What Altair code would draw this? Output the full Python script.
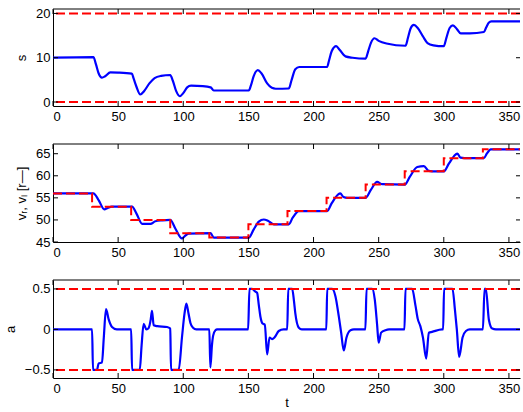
import altair as alt
import pandas as pd

# ---------------- data ----------------
t_s = [0, 31, 33, 35, 37.6, 40, 44, 50, 60.5, 62, 64, 67, 70, 74, 78, 83, 90, 92, 94.5, 97.3,
       100, 103, 106, 115, 121, 123.4, 150.3, 152, 154, 157.2, 160, 164.4, 168, 171, 181, 183,
       186, 189, 210.4, 212, 214, 217.4, 220, 224.5, 230, 240, 242, 244, 246.8, 250, 256, 270.6,
       272.5, 274.5, 277, 280, 284, 287.5, 292, 300, 302, 304.5, 307, 310, 313, 320, 330.8,
       332.5, 334.5, 336.5, 360]
s_vals = [10.0, 10.15, 8.5, 6.5, 5.5, 5.8, 6.7, 6.65, 6.4, 5.2, 3.5, 1.7, 2.5, 4.2, 5.4, 5.9, 6.1,
          4.8, 2.5, 1.3, 2.0, 3.3, 3.7, 3.6, 3.3, 2.6, 2.6, 3.8, 5.8, 7.2, 6.5, 4.2, 3.2, 3.0, 3.05,
          4.8, 7.4, 7.9, 7.9, 9.5, 11.5, 12.6, 11.8, 10.3, 10.0, 9.8, 11.5, 13.3, 14.4, 13.8, 13.2,
          12.7, 14.5, 16.6, 17.4, 16.7, 14.8, 13.3, 12.8, 12.6, 14.5, 16.7, 17.3, 16.5, 15.5, 15.5,
          15.8, 16.8, 17.9, 18.2, 18.2]
s_limits = [0, 20]

t_v = [0, 31, 35, 39.4, 42, 45, 60.7, 64, 68.5, 74.8, 78.6, 84, 90, 94, 99, 101, 104, 121, 123.4,
       150.3, 154, 158, 161.8, 165, 169.5, 181, 184, 188.7, 210.4, 214, 219, 220.5, 223, 226, 240,
       244, 248.8, 252.7, 270, 274, 279.6, 284.7, 288.5, 291, 300, 304, 309, 310.5, 312.8, 316,
       330.8, 333, 336, 360]
v_vals = [56, 56, 54.5, 52.4, 52.7, 53.0, 53.0, 51.5, 49.1, 49.1, 49.7, 49.9, 50.0, 48.0, 45.8,
          46.3, 46.9, 47.0, 46.0, 46.0, 47.8, 49.6, 50.1, 49.8, 49.0, 49.0, 50.5, 52.0, 52.0, 53.8,
          55.8, 56.0, 55.2, 55.0, 55.0, 56.8, 58.6, 58.1, 58.0, 59.8, 62.0, 62.2, 61.1, 61.0, 61.0,
          62.8, 64.8, 65.0, 64.1, 64.0, 64.0, 65.0, 66.0, 66.0]
t_ref = [0, 30, 60, 90, 120, 150, 180, 210, 240, 270, 300, 330, 360]
v_ref = [56, 53, 50, 47, 46, 49, 52, 55, 58, 61, 64, 66, 66]

t_a = [0, 30, 30.7, 33.8, 35, 37.6, 39, 40.7, 42.8, 45.3, 49, 60, 60.7, 66.6, 68, 69.6, 71.7, 73.5,
       75, 76, 77.3, 80, 87.6, 90, 90.6, 96.5, 99, 101, 102.4, 104, 105.5, 107.5, 110, 120, 120.8,
       122, 122.9, 124.7, 126, 149.8, 150.8, 152.8, 155.4, 156.7, 158, 159.2, 161, 162.6, 164.4,
       166.2, 168.2, 170, 173.3, 177, 179.8, 180.6, 183.6, 185, 186, 188.7, 191, 209.8, 210.5,
       214.3, 216.8, 219.4, 221.2, 223.2, 225.3, 228.4, 231, 239.8, 240.7, 245, 247, 248.8, 250,
       251.9, 255.2, 258, 269.8, 270.6, 275.7, 278.3, 280, 282, 284, 286.5, 288.5, 291, 298.7,
       299.5, 300.2, 306.7, 308.5, 310, 311.8, 314.4, 317, 320, 330, 331.3, 332.3, 334.6, 337.2,
       340, 360]
a_vals = [0, 0, -0.5, -0.5, -0.42, -0.41, -0.1, 0.25, 0.12, 0.03, 0, 0, -0.5, -0.5, -0.2, 0.07, 0.0,
          0.02, 0.12, 0.23, 0.05, 0.04, 0.03, 0.01, -0.5, -0.5, -0.1, 0.2, 0.32, 0.2, 0.08, 0.02, 0,
          0, -0.47, -0.2, -0.08, -0.01, 0, 0, 0.5, 0.5, 0.465, 0.45, 0.3, 0.16, 0.07, 0.06, -0.31,
          -0.1, -0.12, -0.1, -0.02, 0, 0, 0.5, 0.5, 0.35, 0.2, 0.02, 0, 0, 0.5, 0.5, 0.41, 0.16,
          -0.04, -0.26, -0.1, -0.01, 0, 0, 0.5, 0.5, 0.37, 0.06, -0.165, -0.04, -0.01, 0, 0, 0.5,
          0.5, 0.29, 0.13, 0.04, -0.1, -0.36, -0.04, -0.03, 0, 0, 0.5, 0.5, 0.25, 0.0, -0.34, -0.1,
          -0.02, 0, 0, 0.5, 0.5, 0.12, 0.01, 0, 0]
a_limits = [-0.5, 0.5]

x_ticks = [0, 50, 100, 150, 200, 250, 300, 350]
s_ticks = [0, 10, 20]
v_ticks = [45, 50, 55, 60, 65]
a_ticks = [-0.5, 0, 0.5]

# ---------------- style ----------------
W = 467
X_DOMAIN = [0, 358.5]
BLUE = "#0000ff"
RED = "#ff0000"
FONT = "Liberation Sans"

xscale = alt.Scale(domain=X_DOMAIN, nice=False, zero=False)


def panel(df, field, ydomain, yticks, ytitle, ref_kind, ref_data, H, xtitle=None, label_expr=None):
    yscale = alt.Scale(domain=ydomain, nice=False, zero=False)
    yaxis_kwargs = dict(values=yticks, title=ytitle, grid=False, ticks=False, tickSize=0,
                        labelPadding=3, titlePadding=7, domain=True, domainColor="black",
                        labelOverlap=False, labelBound=False)
    if label_expr:
        yaxis_kwargs["labelExpr"] = label_expr
    yaxis = alt.Axis(**yaxis_kwargs)
    xaxis = alt.Axis(values=x_ticks, title=xtitle, grid=False, ticks=False, tickSize=0,
                     labelPadding=4, titlePadding=1, format="d", domain=True,
                     domainColor="black", labelOverlap=False)
    blue = alt.Chart(df).mark_line(color=BLUE, strokeWidth=2.2, interpolate="monotone",
                                   clip=True).encode(
        x=alt.X("t:Q", scale=xscale, axis=xaxis),
        y=alt.Y(f"{field}:Q", scale=yscale, axis=yaxis),
    )
    if ref_kind == "limits":
        ref = alt.Chart(pd.DataFrame({"lim": ref_data})).mark_rule(
            color=RED, strokeWidth=2, strokeDash=[9, 4]).encode(
            y=alt.Y("lim:Q", scale=yscale, axis=yaxis))
    else:
        ref = alt.Chart(pd.DataFrame({"t": ref_data[0], "vref": ref_data[1]})).mark_line(
            color=RED, strokeWidth=2, strokeDash=[9, 4], interpolate="step-after",
            clip=True).encode(
            x=alt.X("t:Q", scale=xscale, axis=xaxis),
            y=alt.Y("vref:Q", scale=yscale, axis=yaxis),
        )
    top = alt.Chart(pd.DataFrame({"z": [0]})).mark_rule(color="black", strokeWidth=1).encode(
        y=alt.value(0))
    xt = pd.DataFrame({"xt": x_ticks})
    xt_bot = alt.Chart(xt).mark_rule(color="black", strokeWidth=1).encode(
        x=alt.X("xt:Q", scale=xscale, axis=xaxis), y=alt.value(H), y2=alt.value(H - 5))
    xt_top = alt.Chart(xt).mark_rule(color="black", strokeWidth=1).encode(
        x=alt.X("xt:Q", scale=xscale, axis=xaxis), y=alt.value(0), y2=alt.value(5))
    yt = pd.DataFrame({"yt": yticks})
    yt_l = alt.Chart(yt).mark_rule(color="black", strokeWidth=1).encode(
        y=alt.Y("yt:Q", scale=yscale, axis=yaxis), x=alt.value(0), x2=alt.value(5))
    yt_r = alt.Chart(yt).mark_rule(color="black", strokeWidth=1).encode(
        y=alt.Y("yt:Q", scale=yscale, axis=yaxis), x=alt.value(W - 4), x2=alt.value(W))
    return alt.layer(blue, ref, top, xt_bot, xt_top, yt_l, yt_r).properties(width=W, height=H)


p1 = panel(pd.DataFrame({"t": t_s, "s": s_vals}), "s", [-0.9, 21], s_ticks, "s",
           "limits", s_limits, 97)
p2 = panel(pd.DataFrame({"t": t_v, "v": v_vals}), "v", [45, 67.2], v_ticks, "vᵣ, vₗ [r—]",
           "steps", (t_ref, v_ref), 98)
p3 = panel(pd.DataFrame({"t": t_a, "a": a_vals}), "a", [-0.6, 0.61], a_ticks, "a",
           "limits", a_limits, 98, xtitle="t",
           label_expr="datum.value == 0 ? '0' : format(datum.value, '.1f')")

chart = alt.vconcat(p1, p2, p3, spacing=38, bounds="flush").properties(
    padding={"left": 4, "top": 7, "right": 0, "bottom": 0},
    background="white",
).configure_view(stroke=None).configure_axis(
    labelFont=FONT, labelFontSize=13, labelColor="black",
    titleFont=FONT, titleFontSize=13, titleFontWeight="normal", titleColor="black",
    domainWidth=1,
)

chart.save("out.html", embed_options={"renderer": "svg", "actions": False})
